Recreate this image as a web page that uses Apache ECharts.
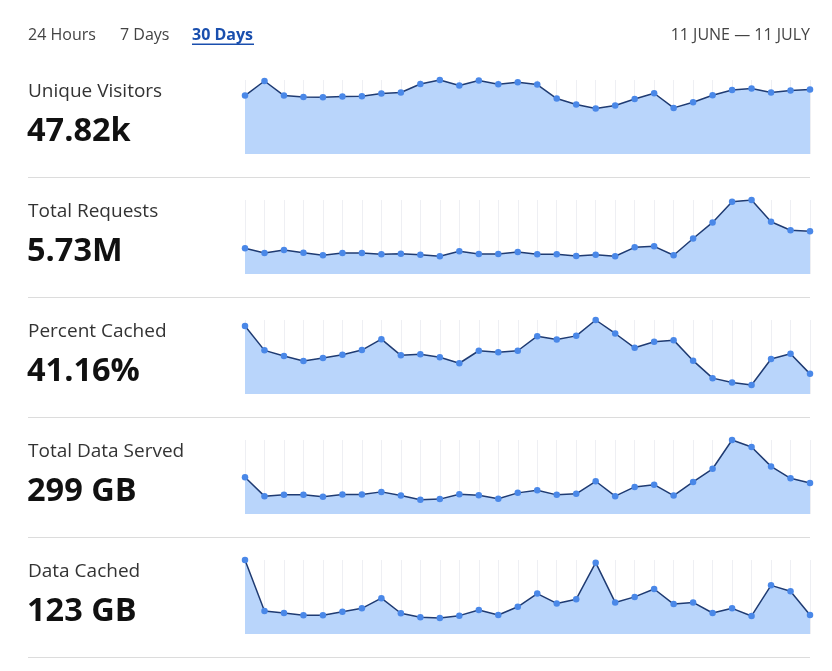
<!DOCTYPE html>
<html>
<head>
<meta charset="utf-8">
<title>Site stats</title>
<script src="https://cdn.jsdelivr.net/npm/echarts@6/dist/echarts.min.js"></script>
<style>
  html, body { margin: 0; padding: 0; background: #fff; }
  #main { width: 832px; height: 671px; }
</style>
</head>
<body>
<div id="main"></div>
<script>
// 30 days, 11 June - 10 July
const days = []
for (let i = 0; i < 30; i++) {
  const d = new Date(2023, 5, 11 + i)
  days.push((d.getMonth() + 1) + '/' + d.getDate())
}

const tabs = ['24 Hours', '7 Days', '30 Days']
const rangeText = '11 JUNE \u2014 11 JULY'

const titles = ['Unique Visitors', 'Total Requests', 'Percent Cached', 'Total Data Served', 'Data Cached']
const totals = ['47.82k', '5.73M', '41.16%', '299 GB', '123 GB']

// values (axis runs from 0 to the largest value)
const uniqueVisitors = [58.7, 73.3, 58.7, 57.3, 57, 57.7, 58, 60.7, 61.7, 70.3, 74.3, 68.7, 73.7, 70, 72,
  69.7, 55.7, 49.7, 45.7, 48.7, 55.3, 61, 46.3, 52, 59, 64.3, 65.7, 61.7, 63.7, 64.7]
const totalRequests = [26, 21.3, 24.3, 21.6, 19, 21.3, 21.3, 20, 20.6, 19.6, 18, 23, 20.3, 20.3, 22.3,
  20, 20, 18.3, 19.6, 18, 27, 28, 19, 36, 52.3, 73.3, 75, 53, 44.3, 43.3]
const percentCached = [68.6, 44, 38.3, 33.3, 36.3, 39.6, 44.3, 55.3, 39, 40, 37, 31, 43.6, 42, 43.6,
  58.3, 55, 58.6, 74.6, 61, 46.6, 52.6, 54.3, 33.6, 16, 11.6, 9, 35.3, 40.6, 20.3]
const totalDataServed = [37, 18, 19.3, 19.3, 17.3, 19.6, 19.6, 22.3, 18.6, 14.3, 15, 20, 19, 15.3, 21.3,
  24, 19.3, 20.3, 33, 18, 27.3, 29.6, 18.6, 32.3, 45.6, 74.6, 67.6, 48, 36, 31.3]
const dataCached = [75, 23.3, 21.3, 19, 19, 22.6, 26, 36.3, 21, 17, 16.3, 18.6, 24.3, 19.3, 27.6,
  41, 31, 35.3, 72.3, 32, 37.6, 45.6, 30.3, 32, 21.3, 26, 18.3, 49.3, 43.3, 19.3]

const seriesData = [uniqueVisitors, totalRequests, percentCached, totalDataServed, dataCached]

const font = '"Open Sans", "Noto Sans", sans-serif'
const rowH = 120

let grid = [], xAxis = [], yAxis = [], series = [], graphic = []

// top bar
const tabX = [28, 120, 192]
tabs.forEach((t, i) => {
  graphic.push({
    type: 'text', left: tabX[i], top: 27,
    style: {
      text: t, font: (i === 2 ? 'bold ' : '') + '16px ' + font,
      fill: i === 2 ? '#1a4fae' : '#444'
    }
  })
})
graphic.push({
  type: 'rect', shape: { x: 192, y: 43.5, width: 62, height: 1.5 },
  style: { fill: '#1a4fae' }
})
graphic.push({
  type: 'text', right: 22, top: 27,
  style: { text: rangeText, font: '16px ' + font, fill: '#444' }
})

for (let i = 0; i < 5; i++) {
  const top = 80 + i * rowH
  grid.push({ left: 245, top: top, width: 565, height: 74 })
  xAxis.push({
    type: 'category', gridIndex: i, data: days, boundaryGap: false,
    axisLine: { show: false }, axisTick: { show: false }, axisLabel: { show: false },
    splitLine: { show: true, interval: 0, lineStyle: { color: '#eeeff3', width: 1 } }
  })
  yAxis.push({
    type: 'value', gridIndex: i, min: 0, max: 'dataMax', show: false,
    splitLine: { show: false }
  })
  series.push({
    type: 'line', xAxisIndex: i, yAxisIndex: i, data: seriesData[i],
    symbol: 'circle', symbolSize: 6.5, showSymbol: true,
    lineStyle: { color: '#1f3b72', width: 1.5 },
    itemStyle: { color: '#4a88e8', borderWidth: 0 },
    areaStyle: { color: '#b9d5fb', opacity: 1 }
  })

  // row text
  graphic.push({
    type: 'text', left: 28, top: top + 2,
    style: { text: titles[i], font: '19px ' + font, fill: '#333' }
  })
  graphic.push({
    type: 'text', left: 27, top: top + 35,
    style: { text: totals[i], font: 'bold 32.5px ' + font, fill: '#111' }
  })
  // separator
  graphic.push({
    type: 'line', shape: { x1: 28, y1: top + 97.5, x2: 810, y2: top + 97.5 },
    style: { stroke: '#dcdcdc', lineWidth: 1 }
  })
}

const myChart = echarts.init(document.getElementById('main'))
myChart.setOption({
  animation: false,
  grid, xAxis, yAxis, series, graphic
})
</script>
</body>
</html>
